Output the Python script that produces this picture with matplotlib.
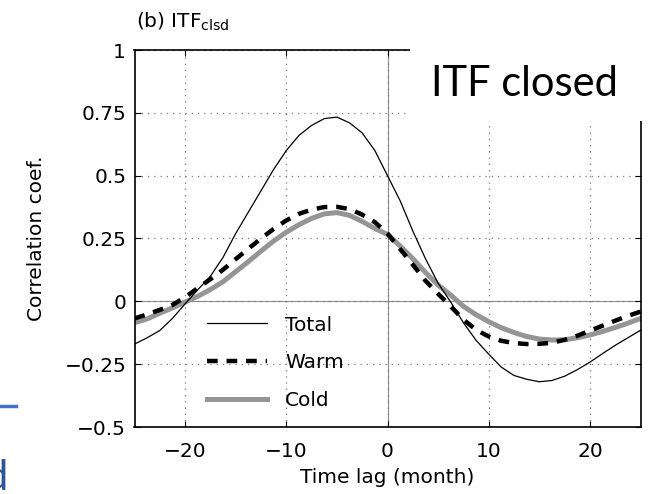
import matplotlib.pyplot as plt
from matplotlib.patches import Rectangle

# Lag (months) and correlation coefficients
lag = [-25, -23.75, -22.5, -21.25, -20, -18.75, -17.5, -16.25, -15, -13.75,
       -12.5, -11.25, -10, -8.75, -7.5, -6.25, -5, -3.75, -2.5, -1.25,
       0, 1.25, 2.5, 3.75, 5, 6.25, 7.5, 8.75, 10, 11.25,
       12.5, 13.75, 15, 16.25, 17.5, 18.75, 20, 21.25, 22.5, 23.75, 25]
total = [-0.17, -0.145, -0.116, -0.068, -0.01, 0.046, 0.10, 0.175, 0.27, 0.355,
         0.44, 0.525, 0.60, 0.66, 0.70, 0.727, 0.733, 0.71, 0.67, 0.60,
         0.50, 0.40, 0.28, 0.17, 0.072, -0.003, -0.085, -0.155, -0.21, -0.262,
         -0.295, -0.31, -0.32, -0.315, -0.298, -0.272, -0.242, -0.208, -0.175, -0.145, -0.115]
warm = [-0.068, -0.052, -0.034, -0.014, 0.016, 0.053, 0.088, 0.126, 0.168, 0.209,
        0.25, 0.288, 0.322, 0.348, 0.365, 0.375, 0.376, 0.367, 0.345, 0.315,
        0.27, 0.208, 0.146, 0.082, 0.03, -0.02, -0.073, -0.113, -0.14, -0.157,
        -0.166, -0.17, -0.169, -0.165, -0.153, -0.137, -0.117, -0.097, -0.077, -0.058, -0.041]
cold = [-0.085, -0.07, -0.047, -0.026, -0.003, 0.02, 0.047, 0.078, 0.118, 0.158,
        0.20, 0.24, 0.275, 0.305, 0.33, 0.348, 0.353, 0.342, 0.318, 0.29,
        0.266, 0.22, 0.17, 0.115, 0.065, 0.025, -0.02, -0.053, -0.081, -0.105,
        -0.124, -0.14, -0.15, -0.154, -0.153, -0.145, -0.134, -0.12, -0.104, -0.087, -0.068]

xticks = [-20, -10, 0, 10, 20]
xtick_labels = ['\u221220', '\u221210', '0', '10', '20']
yticks = [-0.5, -0.25, 0, 0.25, 0.5, 0.75, 1]
ytick_labels = ['\u22120.5', '\u22120.25', '0', '0.25', '0.5', '0.75', '1']

plt.rcParams['font.family'] = ['DejaVu Sans']
fs = 14.5

fig = plt.figure(figsize=(6.52, 4.94), dpi=100)
ax = fig.add_axes([134.5 / 652, 67 / 494, 506 / 652, 377 / 494])

# zero lines (solid grey) and dotted grid
ax.axhline(0, color='#8c8c8c', lw=0.8, zorder=1)
ax.axvline(0, color='#8c8c8c', lw=0.8, zorder=1)
ax.grid(True, color='#7a7a7a', linestyle=(0, (1, 4)), lw=0.9)

ax.plot(lag, total, color='black', lw=0.9, label='Total', zorder=4)
ax.plot(lag, warm, color='black', lw=3.2, dashes=(2.4, 2.0), label='Warm', zorder=3)
ax.plot(lag, cold, color='#959595', lw=3.6, label='Cold', zorder=2)

ax.set_xlim(-25, 25)
ax.set_ylim(-0.5, 1)
ax.set_xticks(xticks)
ax.set_xticklabels(xtick_labels)
ax.set_yticks(yticks)
ax.set_yticklabels(ytick_labels)
ax.tick_params(direction='in', top=True, right=True, labelsize=fs, length=4)
ax.tick_params(axis='x', pad=11)
ax.tick_params(axis='y', pad=6)
for s in ax.spines.values():
    s.set_linewidth(1.2)

ax.set_xlabel('Time lag (month)', fontsize=fs, labelpad=5)
ax.set_ylabel('Correlation coef.', fontsize=fs, labelpad=13)

ax.legend(loc='upper left', bbox_to_anchor=(0.127, 0.317), frameon=False,
          fontsize=fs, handlelength=3.0, handletextpad=0.9, labelspacing=0.92,
          borderaxespad=0)

fig.text(136 / 652, 1 - 28 / 494, r'(b) ITF$_{\rm clsd}$', fontsize=fs, va='baseline')

# slide overlay: white box with big label
fig.patches.append(Rectangle((410 / 652, 1 - 121 / 494), 242 / 652, 84 / 494,
                             transform=fig.transFigure, facecolor='white',
                             edgecolor='none', zorder=10))
fig.text(524 / 652, 1 - 84 / 494, 'ITF closed', fontsize=30, family='Lato',
         ha='center', va='center', zorder=11)

# cut-off slide pieces at the left edge
fig.add_artist(plt.Line2D([0, 16 / 652], [1 - 406 / 494, 1 - 406 / 494],
                          transform=fig.transFigure, color='#4472C4', lw=2.5))
fig.text(8 / 652, 1 - 490 / 494, 'd', fontsize=30, family='Lato', color='#2F5597',
         ha='right', va='baseline')

fig.savefig('out.png', dpi=100)
